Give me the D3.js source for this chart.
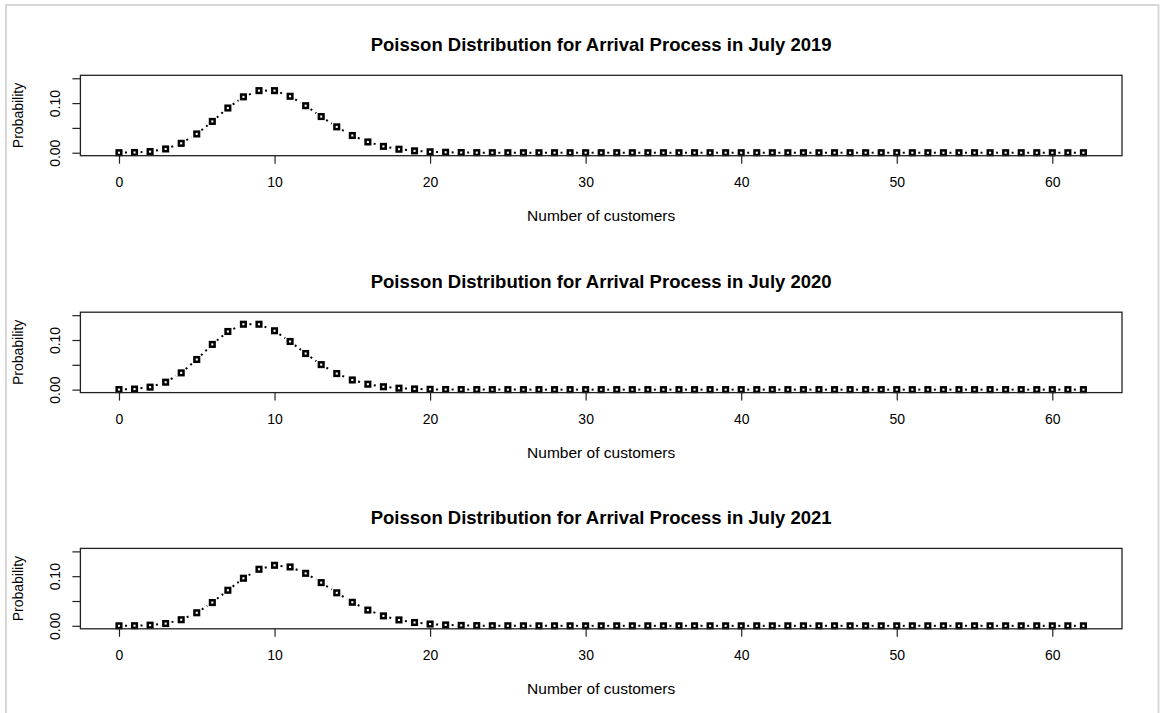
<!DOCTYPE html>
<html>
<head>
<meta charset="utf-8">
<script src="https://cdn.jsdelivr.net/npm/d3@7/dist/d3.min.js"></script>
<style>
  html, body { margin: 0; padding: 0; background: #ffffff; }
  svg { display: block; }
  text { font-family: "Liberation Sans", Arial, Helvetica, sans-serif; fill: #000; }
</style>
</head>
<body>
<svg id="chart" width="1161" height="713"></svg>
<script>
// ---- Data ----
const customers = [0,1,2,3,4,5,6,7,8,9,10,11,12,13,14,15,16,17,18,19,20,21,22,23,24,25,26,27,28,29,30,
  31,32,33,34,35,36,37,38,39,40,41,42,43,44,45,46,47,48,49,50,51,52,53,54,55,56,57,58,59,60,61,62];

const prob2019 = [0.0000454, 0.000454, 0.00227, 0.00757, 0.01892, 0.03783, 0.06306, 0.09008, 0.11260, 0.12511,
  0.12511, 0.11374, 0.09478, 0.07291, 0.05208, 0.03472, 0.02170, 0.01276, 0.00709, 0.00373,
  0.00187, 0.00089, 0.00040, 0.00018, 0.00007, 0.00003, 0.00001, 0, 0, 0,
  0, 0, 0, 0, 0, 0, 0, 0, 0, 0, 0, 0, 0, 0, 0, 0, 0, 0, 0, 0,
  0, 0, 0, 0, 0, 0, 0, 0, 0, 0, 0, 0, 0];

const prob2020 = [0.000123, 0.00111, 0.00500, 0.01499, 0.03374, 0.06073, 0.09109, 0.11712, 0.13176, 0.13176,
  0.11858, 0.09702, 0.07277, 0.05038, 0.03238, 0.01943, 0.01093, 0.00579, 0.00289, 0.00137,
  0.00062, 0.00026, 0.00011, 0.00004, 0.00002, 0.00001, 0, 0, 0, 0,
  0, 0, 0, 0, 0, 0, 0, 0, 0, 0, 0, 0, 0, 0, 0, 0, 0, 0, 0, 0,
  0, 0, 0, 0, 0, 0, 0, 0, 0, 0, 0, 0, 0];

const prob2021 = [0.0000225, 0.000241, 0.001288, 0.004593, 0.012286, 0.026292, 0.046888, 0.071671, 0.095860, 0.113967,
  0.121945, 0.118618, 0.105768, 0.087056, 0.066536, 0.047462, 0.031740, 0.019978, 0.011876, 0.006688,
  0.003578, 0.001823, 0.000887, 0.000413, 0.000184, 0.000079, 0.000032, 0.000013, 0, 0,
  0, 0, 0, 0, 0, 0, 0, 0, 0, 0, 0, 0, 0, 0, 0, 0, 0, 0, 0, 0,
  0, 0, 0, 0, 0, 0, 0, 0, 0, 0, 0, 0, 0];

const titles = [
  "Poisson Distribution for Arrival Process in July 2019",
  "Poisson Distribution for Arrival Process in July 2020",
  "Poisson Distribution for Arrival Process in July 2021"
];
const seriesList = [prob2019, prob2020, prob2021];
const xTicks = [0, 10, 20, 30, 40, 50, 60];
const yTicks = [0, 0.05, 0.10, 0.15];
const yTickLabels = ["0.00", "", "0.10", ""];
const xLabel = "Number of customers";
const yLabel = "Probability";

// ---- Layout ----
const svg = d3.select("#chart");
const boxLeft = 80.4, boxRight = 1122;
const panelTops = [75.3, 312.2, 548.4];
const panelH = 80.4;

// outer light frame
svg.append("rect")
  .attr("x", 6).attr("y", 5).attr("width", 1152.5).attr("height", 730)
  .attr("fill", "none").attr("stroke", "#d7d7d7").attr("stroke-width", 2);

const x = d3.scaleLinear().domain([-2.48, 64.48]).range([boxLeft, boxRight]);

panelTops.forEach((top, pi) => {
  const bottom = top + panelH;
  const y = d3.scaleLinear().domain([-0.006, 0.156]).range([bottom, top]);
  const values = seriesList[pi];
  const g = svg.append("g");

  // title
  g.append("text")
    .attr("x", (boxLeft + boxRight) / 2).attr("y", top - 24.5)
    .attr("text-anchor", "middle")
    .style("font-weight", "bold").style("font-size", "18.5px")
    .text(titles[pi]);

  // x axis
  const xAxis = g.append("g")
    .attr("transform", `translate(0,${bottom})`)
    .call(d3.axisBottom(x).tickValues(xTicks).tickSize(8).tickPadding(0).tickFormat(d3.format("d")));
  xAxis.select(".domain").remove();
  xAxis.selectAll(".tick line").attr("stroke", "#222").attr("stroke-width", 1.2);
  xAxis.selectAll(".tick text")
    .attr("y", 31).attr("dy", 0)
    .style("font-size", "14px").style("font-family", "Liberation Sans, Arial, sans-serif").attr("fill", "#000");

  // y axis
  const yAxis = g.append("g")
    .attr("transform", `translate(${boxLeft},0)`)
    .call(d3.axisLeft(y).tickValues(yTicks).tickSize(8)
      .tickFormat((d, i) => yTickLabels[i]));
  yAxis.select(".domain").remove();
  yAxis.selectAll(".tick line").attr("stroke", "#222").attr("stroke-width", 1.2);
  yAxis.selectAll(".tick text")
    .attr("x", 0).attr("y", 0).attr("dy", 0)
    .attr("text-anchor", "middle")
    .attr("transform", "translate(-20.5,0) rotate(-90)")
    .style("font-size", "14px").style("font-family", "Liberation Sans, Arial, sans-serif").attr("fill", "#000");

  // axis titles
  g.append("text")
    .attr("x", (boxLeft + boxRight) / 2).attr("y", bottom + 65)
    .attr("text-anchor", "middle").style("font-size", "15.5px")
    .text(xLabel);
  g.append("text")
    .attr("transform", `translate(22.5,${(top + bottom) / 2}) rotate(-90)`)
    .attr("text-anchor", "middle").style("font-size", "14px")
    .text(yLabel);

  // dotted connecting segments (type "b": gaps around points)
  const pts = customers.map((c, i) => [x(c), y(values[i])]);
  const gap = 6;
  const segs = [];
  for (let i = 0; i < pts.length - 1; i++) {
    const [x1, y1] = pts[i], [x2, y2] = pts[i + 1];
    const dx = x2 - x1, dy = y2 - y1, len = Math.hypot(dx, dy);
    if (len > 2 * gap) {
      const ux = dx / len, uy = dy / len;
      segs.push([x1 + ux * gap, y1 + uy * gap, x2 - ux * gap, y2 - uy * gap]);
    }
  }
  g.append("g").selectAll("line").data(segs).join("line")
    .attr("x1", d => d[0]).attr("y1", d => d[1])
    .attr("x2", d => d[2]).attr("y2", d => d[3])
    .attr("stroke", "#000").attr("stroke-width", 2)
    .attr("stroke-dasharray", "2,4");

  // square markers
  g.append("g").selectAll("rect").data(customers).join("rect")
    .attr("x", (d) => x(d) - 2.3).attr("y", (d, i) => y(values[i]) - 2.3)
    .attr("width", 4.6).attr("height", 4.6)
    .attr("fill", "#fff").attr("stroke", "#000").attr("stroke-width", 2.5);

  // plot box
  g.append("rect")
    .attr("x", boxLeft).attr("y", top).attr("width", boxRight - boxLeft).attr("height", panelH)
    .attr("fill", "none").attr("stroke", "#222").attr("stroke-width", 1.3);
});
</script>
</body>
</html>
